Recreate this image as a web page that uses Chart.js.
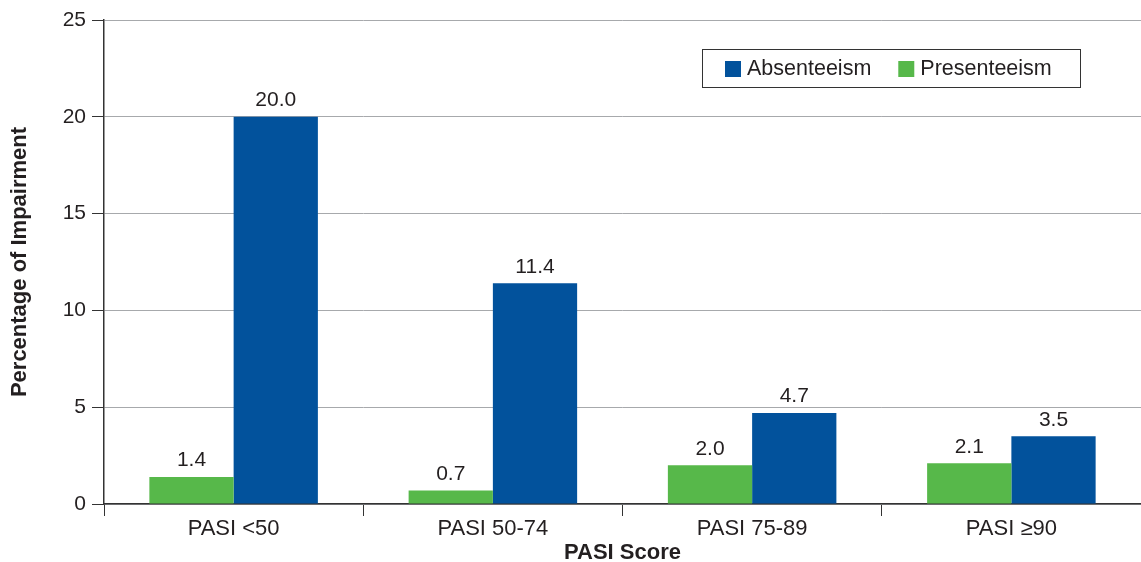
<!DOCTYPE html>
<html>
<head>
<meta charset="utf-8">
<script src="https://cdn.jsdelivr.net/npm/chart.js@4/dist/chart.umd.min.js"></script>
<style>
  html, body { margin: 0; padding: 0; background: #fff; }
  #wrap { width: 1141px; height: 562px; position: relative; }
</style>
</head>
<body>
<div id="wrap"><canvas id="c" width="1141" height="562"></canvas></div>
<script>
// PASI response categories and impairment percentages
const categories = ['PASI <50', 'PASI 50-74', 'PASI 75-89', 'PASI \u226590'];
const presenteeism = [1.4, 0.7, 2.0, 2.1];
const absenteeism = [20.0, 11.4, 4.7, 3.5];
const yTicks = [0, 5, 10, 15, 20, 25];

const GREEN = '#57b84a';
const BLUE = '#02529c';
const FONT = '"Liberation Sans", Arial, Helvetica, sans-serif';

// Value labels above each bar
const valueLabels = {
  id: 'valueLabels',
  afterDatasetsDraw(chart) {
    const ctx = chart.ctx;
    ctx.save();
    ctx.font = '21px ' + FONT;
    ctx.fillStyle = '#231f20';
    ctx.textAlign = 'center';
    ctx.textBaseline = 'bottom';
    chart.data.datasets.forEach((ds, i) => {
      chart.getDatasetMeta(i).data.forEach((bar, j) => {
        ctx.fillText(ds.data[j].toFixed(1), bar.x, bar.y - 6);
      });
    });
    ctx.restore();
  }
};

// Boxed legend inside the plot area (Absenteeism first)
const boxLegend = {
  id: 'boxLegend',
  afterDraw(chart) {
    const ctx = chart.ctx;
    const order = [1, 0];
    const x0 = 702, y0 = 49, w = 378, h = 38;
    ctx.save();
    ctx.fillStyle = '#fff';
    ctx.fillRect(x0, y0, w, h);
    ctx.strokeStyle = '#333';
    ctx.lineWidth = 1;
    ctx.strokeRect(x0 + 0.5, y0 + 0.5, w, h);
    ctx.font = '21.5px ' + FONT;
    ctx.textBaseline = 'middle';
    ctx.textAlign = 'left';
    let x = x0 + 23;
    const cy = y0 + h / 2 + 1;
    order.forEach(i => {
      const ds = chart.data.datasets[i];
      ctx.fillStyle = ds.backgroundColor;
      ctx.fillRect(x, cy - 8, 16, 16);
      ctx.fillStyle = '#231f20';
      ctx.fillText(ds.label, x + 22, cy);
      x += 22 + ctx.measureText(ds.label).width + 27;
    });
    ctx.restore();
  }
};

new Chart(document.getElementById('c'), {
  type: 'bar',
  data: {
    labels: categories,
    datasets: [
      { label: 'Presenteeism', data: presenteeism, backgroundColor: GREEN },
      { label: 'Absenteeism', data: absenteeism, backgroundColor: BLUE }
    ]
  },
  options: {
    responsive: false,
    animation: false,
    layout: { padding: { top: 20, right: 0, left: 0, bottom: 0 } },
    datasets: { bar: { categoryPercentage: 0.65, barPercentage: 1.0 } },
    plugins: { legend: { display: false }, tooltip: { enabled: false } },
    scales: {
      x: {
        grid: { display: true, drawOnChartArea: false, drawTicks: true, tickLength: 12, tickColor: '#333', offset: true },
        border: { display: true, color: '#333', width: 1.5 },
        ticks: { color: '#231f20', font: { family: FONT, size: 22 }, padding: 0 },
        title: { display: true, text: 'PASI Score', color: '#231f20', font: { family: FONT, size: 22, weight: 'bold' }, padding: { top: 0, bottom: -4 } },
        afterFit(s) { s.height = 58; }
      },
      y: {
        min: 0, max: 25,
        afterBuildTicks(s) { s.ticks = yTicks.map(v => ({ value: v })); },
        grid: { color: '#a7a9ac', lineWidth: 1, tickLength: 12, tickColor: '#333', drawTicks: true },
        border: { display: true, color: '#333', width: 1.5 },
        ticks: { color: '#231f20', font: { family: FONT, size: 21 }, padding: 6 },
        title: { display: true, text: 'Percentage of Impairment', color: '#231f20', font: { family: FONT, size: 22, weight: 'bold' }, padding: { top: 7, bottom: 0 } },
        afterFit(s) { s.width = 104; }
      }
    }
  },
  plugins: [valueLabels, boxLegend]
});
</script>
</body>
</html>
